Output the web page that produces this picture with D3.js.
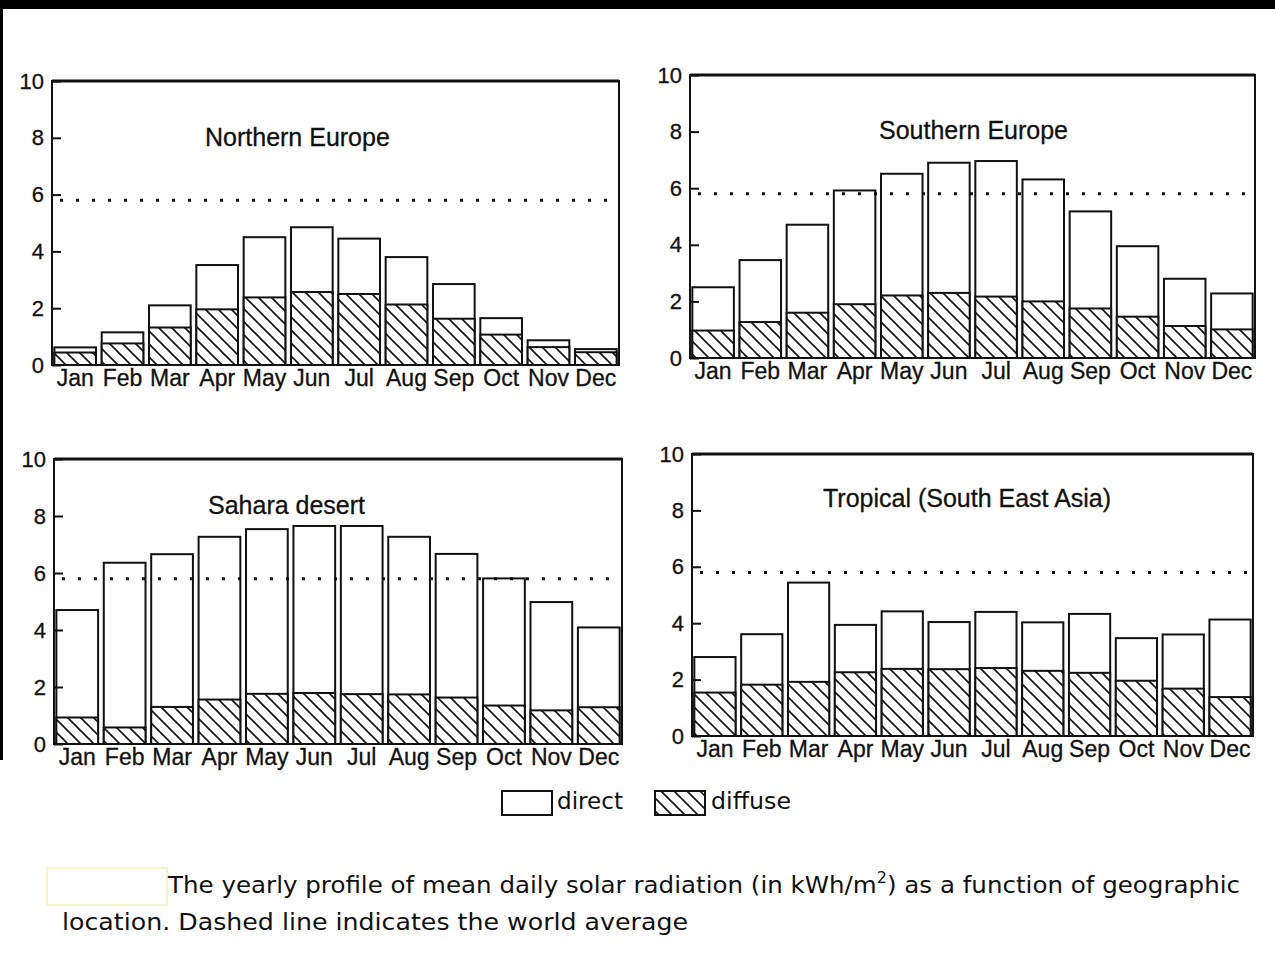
<!DOCTYPE html>
<html><head><meta charset="utf-8">
<script src="https://cdn.jsdelivr.net/npm/d3@7"></script>
<style>
html,body{margin:0;padding:0;background:#fff;}
svg{display:block;}
</style></head>
<body>
<svg id="chart" width="1275" height="963"></svg>
<script>
// ---------- data ----------
const months = ["Jan","Feb","Mar","Apr","May","Jun","Jul","Aug","Sep","Oct","Nov","Dec"];
const yTicks = [0, 2, 4, 6, 8, 10];
const worldAverage = 5.8;

const panelTitles = ["Northern Europe", "Southern Europe", "Sahara desert", "Tropical (South East Asia)"];

const northDiffuse = [0.44,0.76,1.32,1.96,2.38,2.57,2.50,2.13,1.63,1.07,0.63,0.45];
const northDirect  = [0.18,0.39,0.78,1.56,2.12,2.28,1.95,1.67,1.22,0.58,0.24,0.11];

const southDiffuse = [0.97,1.27,1.60,1.90,2.21,2.30,2.17,2.00,1.75,1.46,1.13,1.01];
const southDirect  = [1.53,2.19,3.11,4.02,4.30,4.60,4.79,4.31,3.43,2.49,1.67,1.27];

const saharaDiffuse = [0.93,0.58,1.30,1.56,1.76,1.79,1.75,1.74,1.63,1.35,1.18,1.29];
const saharaDirect  = [3.77,5.78,5.36,5.71,5.78,5.86,5.90,5.53,5.04,4.46,3.80,2.80];

const tropicDiffuse = [1.54,1.82,1.92,2.26,2.38,2.37,2.41,2.31,2.24,1.96,1.68,1.38];
const tropicDirect  = [1.26,1.79,3.52,1.68,2.04,1.67,1.99,1.72,2.09,1.51,1.92,2.75];

const legendLabels = ["direct", "diffuse"];
const captionLine1a = "The yearly profile of mean daily solar radiation (in kWh/m";
const captionSup = "2";
const captionLine1b = ") as a function of geographic";
const captionLine2 = "location. Dashed line indicates the world average";

// ---------- layout ----------
const panels = [
  {title: panelTitles[0], diffuse: northDiffuse, direct: northDirect, x0: 52,  x1: 619,  yTop: 81,  yBot: 365, tx: 205, ty: 146},
  {title: panelTitles[1], diffuse: southDiffuse, direct: southDirect, x0: 690, x1: 1255, yTop: 75,  yBot: 358, tx: 879, ty: 139},
  {title: panelTitles[2], diffuse: saharaDiffuse, direct: saharaDirect, x0: 54, x1: 622, yTop: 459, yBot: 744, tx: 208, ty: 514},
  {title: panelTitles[3], diffuse: tropicDiffuse, direct: tropicDirect, x0: 692, x1: 1253, yTop: 454, yBot: 736, tx: 823, ty: 507}
];

const svg = d3.select("#chart");
const FONT = "'Liberation Sans', Arial, Helvetica, sans-serif";
const CAPFONT = "'DejaVu Sans', 'Liberation Sans', sans-serif";
const INK = "#111";

// scan border
svg.append("rect").attr("x",0).attr("y",0).attr("width",1275).attr("height",9).attr("fill","#000");
svg.append("rect").attr("x",0).attr("y",0).attr("width",3).attr("height",760).attr("fill","#000");

// hatch pattern
const defs = svg.append("defs");
const hw = 13;
const pat = defs.append("pattern").attr("id","hatch").attr("patternUnits","userSpaceOnUse")
  .attr("width",hw).attr("height",hw);
pat.append("rect").attr("width",hw).attr("height",hw).attr("fill","#fff");
pat.append("path")
  .attr("d",`M-2,-2L${hw+2},${hw+2}M${hw-2},-2L${hw+2},2M-2,${hw-2}L2,${hw+2}`)
  .attr("stroke",INK).attr("stroke-width",1.6);

panels.forEach(p => {
  const g = svg.append("g");
  const x = d3.scaleBand().domain(months).range([p.x0, p.x1]).paddingInner(0.12).paddingOuter(0.05);
  const y = d3.scaleLinear().domain([0,10]).range([p.yBot, p.yTop]);

  const rows = months.map((m,i) => ({month: m, diffuse: p.diffuse[i], direct: p.direct[i]}));
  const stack = d3.stack().keys(["diffuse","direct"])(rows);

  // frame
  g.append("rect").attr("x",p.x0).attr("y",p.yTop).attr("width",p.x1-p.x0).attr("height",p.yBot-p.yTop)
    .attr("fill","none").attr("stroke",INK).attr("stroke-width",2);
  g.append("line").attr("x1",p.x0).attr("x2",p.x1).attr("y1",p.yTop).attr("y2",p.yTop)
    .attr("stroke",INK).attr("stroke-width",3);

  // bars: total column (white, direct on top) then diffuse (hatched) over its lower part
  const layers = g.selectAll("g.layer").data(stack.slice().reverse()).join("g").attr("class","layer");
  layers.selectAll("rect").data(d => d.map(v => ({v, key: d.key}))).join("rect")
    .attr("x", d => x(d.v.data.month))
    .attr("width", x.bandwidth())
    .attr("y", d => y(d.v[1]))
    .attr("height", d => y(0) - y(d.v[1]))
    .attr("fill", d => d.key === "direct" ? "#fff" : "url(#hatch)")
    .attr("stroke",INK).attr("stroke-width",2);

  // world average dotted line
  g.append("line").attr("x1",p.x0+8).attr("x2",p.x1).attr("y1",y(worldAverage)).attr("y2",y(worldAverage))
    .attr("stroke",INK).attr("stroke-width",3).attr("stroke-dasharray","3,13");

  // y axis with inward ticks
  const ya = g.append("g").attr("transform",`translate(${p.x0},0)`)
    .call(d3.axisLeft(y).tickValues(yTicks).tickSizeInner(-9).tickSizeOuter(0).tickPadding(8));
  ya.select(".domain").remove();
  ya.selectAll("line").attr("stroke",INK).attr("stroke-width",2);
  ya.selectAll("text").attr("font-family",FONT).attr("font-size",22).attr("fill",INK)
    .attr("stroke",INK).attr("stroke-width",0.3);

  // x axis labels
  const xa = g.append("g").attr("transform",`translate(0,${p.yBot})`)
    .call(d3.axisBottom(x).tickSize(0).tickPadding(5));
  xa.select(".domain").remove();
  xa.selectAll("text").attr("font-family",FONT).attr("font-size",23).attr("fill",INK)
    .attr("stroke",INK).attr("stroke-width",0.3);

  // title
  g.append("text").attr("x",p.tx).attr("y",p.ty).text(p.title)
    .attr("font-family",FONT).attr("font-size",25).attr("fill",INK)
    .attr("stroke",INK).attr("stroke-width",0.3);
});

// legend
const lg = svg.append("g");
lg.append("rect").attr("x",502).attr("y",791).attr("width",50).attr("height",24)
  .attr("fill","#fff").attr("stroke",INK).attr("stroke-width",2);
lg.append("text").attr("x",557).attr("y",809).text(legendLabels[0])
  .attr("font-family",CAPFONT).attr("font-size",23).attr("textLength",66).attr("lengthAdjust","spacingAndGlyphs").attr("fill",INK);
lg.append("rect").attr("x",655).attr("y",791).attr("width",50).attr("height",24)
  .attr("fill","url(#hatch)").attr("stroke",INK).attr("stroke-width",2);
lg.append("text").attr("x",711).attr("y",809).text(legendLabels[1])
  .attr("font-family",CAPFONT).attr("font-size",23).attr("textLength",80).attr("lengthAdjust","spacingAndGlyphs").attr("fill",INK);

// caption
svg.append("rect").attr("x",47).attr("y",868).attr("width",120).attr("height",37)
  .attr("fill","#fff").attr("stroke","#f3eebc").attr("stroke-width",1.5);
const c1 = svg.append("text").attr("x",168).attr("y",893)
  .attr("font-family",CAPFONT).attr("font-size",23).attr("fill",INK)
  .attr("textLength",1072).attr("lengthAdjust","spacingAndGlyphs");
c1.append("tspan").text(captionLine1a);
c1.append("tspan").attr("dy",-10).attr("font-size",15).text(captionSup);
c1.append("tspan").attr("dy",10).text(captionLine1b);
svg.append("text").attr("x",62).attr("y",930).text(captionLine2)
  .attr("font-family",CAPFONT).attr("font-size",23).attr("textLength",626).attr("lengthAdjust","spacingAndGlyphs").attr("fill",INK);
</script>
</body></html>
